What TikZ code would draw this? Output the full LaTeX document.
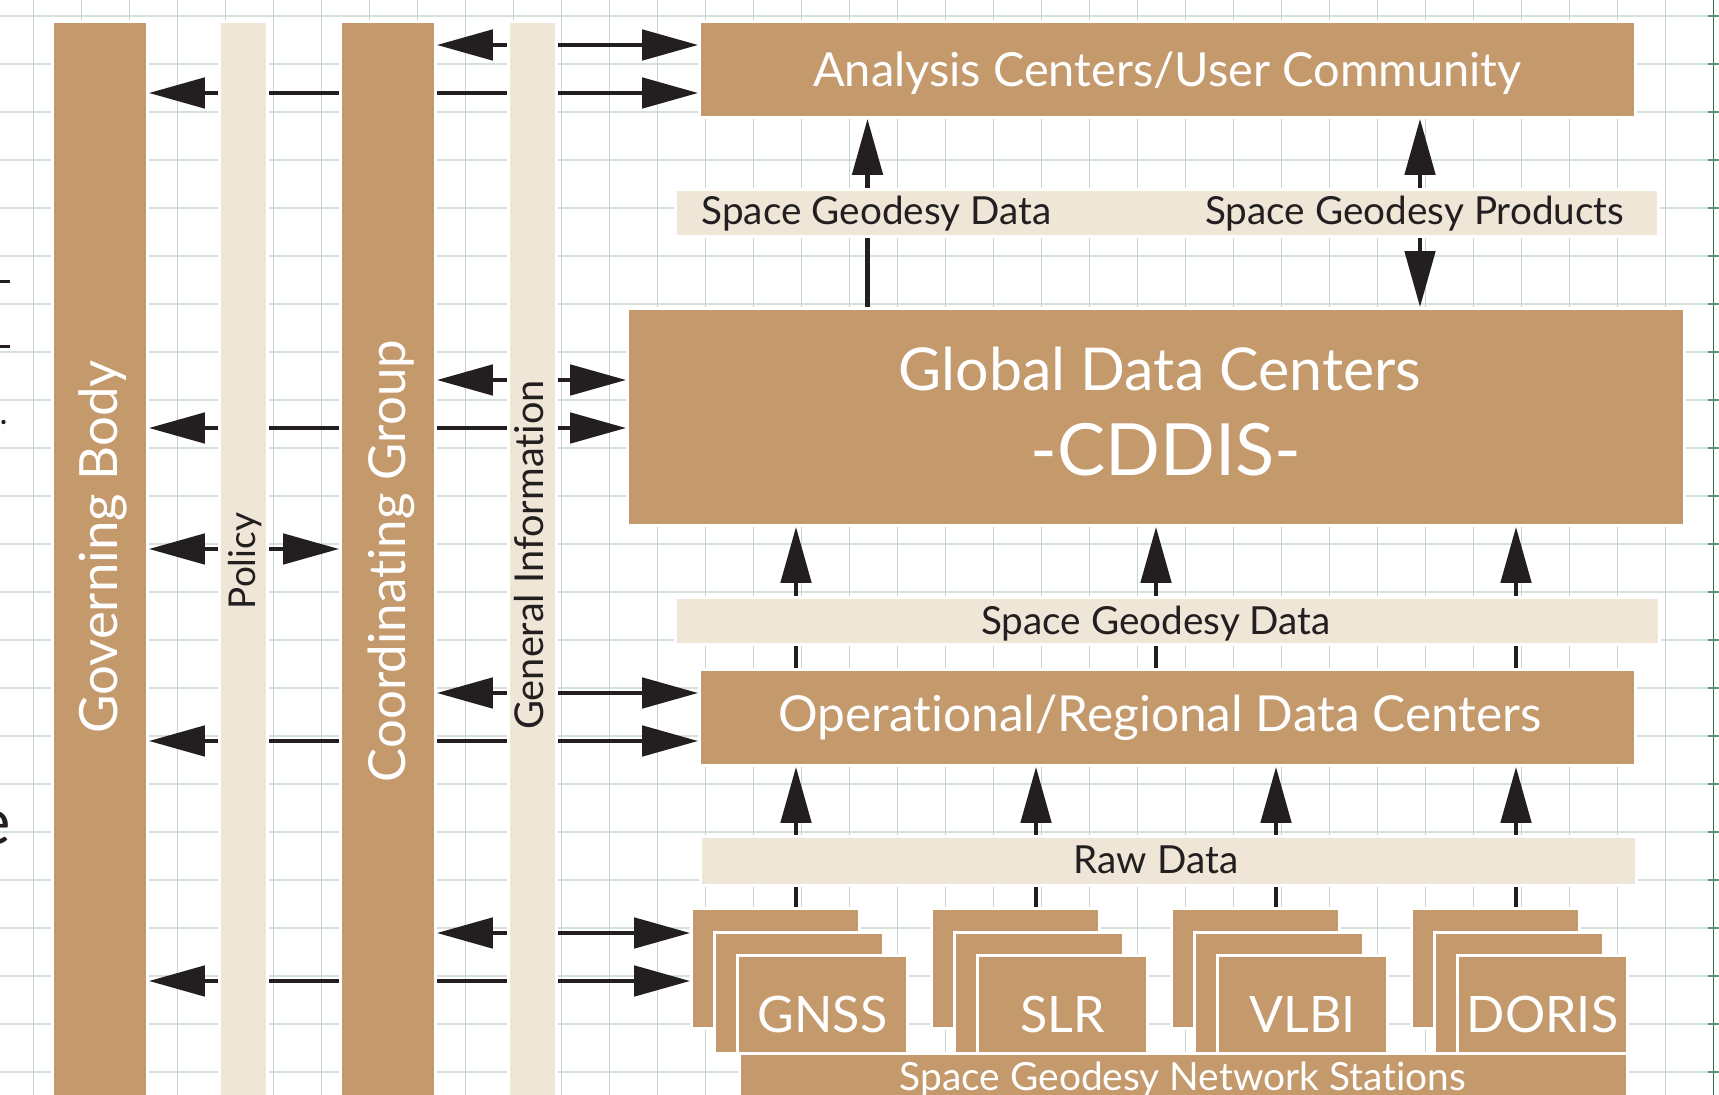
\documentclass[tikz,border=0pt]{standalone}
\usepackage{fontspec}
\setmainfont{Lato}[Ligatures=NoCommon]
\usetikzlibrary{arrows.meta,backgrounds,fit}
\definecolor{clay}{RGB}{196,153,108}
\definecolor{sand}{RGB}{240,230,216}
\definecolor{ink}{RGB}{35,31,32}
\definecolor{gridh}{RGB}{214,225,219}
\definecolor{gridv}{RGB}{198,213,205}
\definecolor{edge}{RGB}{46,107,71}
\pgfdeclarelayer{grid}
\pgfsetlayers{grid,background,main}
% put the middle of the capitals on the node centre
\newcommand{\capmid}[1]{\raisebox{-0.358em}[0pt][0pt]{#1}}
\tikzset{
    base/.style={
        draw=white,
        line width=0.8pt,
        inner sep=0.014cm,
    },
    % brown boxes and bars
    dark/.style={
        base,
        fill=clay,
        text=white,
    },
    % light label bars
    light/.style={
        base,
        fill=sand,
        text=ink,
    },
    % data flow
    flow/.style={
        draw=ink,
        line width=1.34pt,
    },
    >={Triangle[length=0.56cm,width=0.3cm]},
}

\begin{document}
\begin{tikzpicture}[x=0.01cm,y=-0.01cm]
    \useasboundingbox (0,0) rectangle (1719,1095);

%GRID_BEGIN%
    \begin{pgfonlayer}{grid}
        \foreach \y in {16,64,...,1072}
            \draw[gridh, line width=0.57pt] (0,\y) -- (1713,\y);
        \foreach \x in {33.5,81.5,...,1665.5}
            \draw[gridv, line width=0.3pt] (\x,0) -- (\x,1095);
        \draw[edge, line width=0.4pt] (1713.5,0) -- (1713.5,1095);
        \foreach \y in {16,64,...,1072}
            \draw[edge!75!white, line width=0.57pt] (1708,\y) -- (1719,\y);
    \end{pgfonlayer}
    % cut letters at the left edge
    \draw[ink, line width=0.85pt] (0,282) -- (10,282);
    \draw[ink, line width=0.85pt] (0,347) -- (10,347);
    \fill[ink] (3.5,422) circle (0.022cm);
    \node[anchor=east, inner sep=0pt, text=ink, font=\fontsize{18.5pt}{22pt}\selectfont] (frag) at (12,828) {e};
%GRID_END%

%BARS_BEGIN%
    \node[dark, fit={(54,23) (146,1100)}] (gov) {};
    \node[light, fit={(221,23) (266,1100)}] (policy) {};
    \node[dark, fit={(342,23) (434,1100)}] (coord) {};
    \node[light, fit={(510,23) (555,1100)}] (info) {};
    \node[rotate=90, text=white, font=\fontsize{15pt}{18pt}\selectfont] (govtxt) at (99,547) {\capmid{Governing Body}};
    \node[rotate=90, text=ink, font=\fontsize{10.5pt}{13pt}\selectfont] (policytxt) at (242,561) {\capmid{Policy}};
    \node[rotate=90, text=white, font=\fontsize{14.5pt}{18pt}\selectfont] (coordtxt) at (387,561) {\capmid{Coordinating Group}};
    \node[rotate=90, text=ink, font=\fontsize{11.3pt}{13pt}\selectfont] (infotxt) at (529,555) {\capmid{General Information}};
%BARS_END%

%CENTERS_BEGIN%
    \node[dark, fit={(701,23) (1634,116)}, font=\fontsize{13.35pt}{16pt}\selectfont] (acuc) {\capmid{Analysis Centers/User Community}};
    \node[light, fit={(677,191) (1657,235)}] (products) {};
    \node[text=ink, anchor=west, inner sep=0pt, font=\fontsize{11pt}{13pt}\selectfont] (datatxt) at (701,211) {\capmid{Space Geodesy Data}};
    \node[text=ink, anchor=east, inner sep=0pt, font=\fontsize{11pt}{13pt}\selectfont] (prodtxt) at (1625,211) {\capmid{Space Geodesy Products}};
    \node[dark, fit={(629,310) (1683,524)}] (gdc) {};
    \node[text=white, font=\fontsize{16.8pt}{20pt}\selectfont] (gdctxt) at (1160,369) {\capmid{Global Data Centers}};
    \node[text=white, font=\fontsize{20.5pt}{25pt}\selectfont] (cddis) at (1166,450) {\capmid{-CDDIS-}};
    \node[light, fit={(677,599) (1658,643)}] (sgdata) {};
    \node[text=ink, font=\fontsize{11pt}{13pt}\selectfont] (sgdtxt) at (1156,621) {\capmid{Space Geodesy Data}};
    \node[dark, fit={(701,671) (1634,764)}] (odc) {};
    \node[text=white, font=\fontsize{14.1pt}{17pt}\selectfont] (odctxt) at (1160,714) {\capmid{Operational/Regional Data Centers}};
    \node[light, fit={(702,838) (1635,884)}] (raw) {};
    \node[text=ink, font=\fontsize{11pt}{13pt}\selectfont] (rawtxt) at (1156,860) {\capmid{Raw Data}};
%CENTERS_END%

%STATIONS_BEGIN%
    \node[dark, fit={(693,910) (858,1027)}] (gnssA) {};
    \node[dark, fit={(716,934) (882,1052)}] (gnssB) {};
    \node[dark, fit={(739,957) (906,1052)}] (gnssC) {};
    \node[dark, fit={(933,910) (1098,1027)}] (slrA) {};
    \node[dark, fit={(956,934) (1122,1052)}] (slrB) {};
    \node[dark, fit={(979,957) (1146,1052)}] (slrC) {};
    \node[dark, fit={(1173,910) (1338,1027)}] (vlbiA) {};
    \node[dark, fit={(1196,934) (1362,1052)}] (vlbiB) {};
    \node[dark, fit={(1219,957) (1386,1052)}] (vlbiC) {};
    \node[dark, fit={(1413,910) (1578,1027)}] (dorisA) {};
    \node[dark, fit={(1436,934) (1602,1052)}] (dorisB) {};
    \node[dark, fit={(1459,957) (1626,1052)}] (dorisC) {};
    \node[text=white, font=\fontsize{14.3pt}{17pt}\selectfont] at ([yshift=-0.095cm]gnssC.center) {\capmid{GNSS}};
    \node[text=white, font=\fontsize{14.3pt}{17pt}\selectfont] at ([yshift=-0.095cm]slrC.center) {\capmid{SLR}};
    \node[text=white, font=\fontsize{14.3pt}{17pt}\selectfont] at ([yshift=-0.095cm]vlbiC.center) {\capmid{VLBI}};
    \node[text=white, font=\fontsize{14.3pt}{17pt}\selectfont] at ([yshift=-0.095cm]dorisC.center) {\capmid{DORIS}};
    \node[dark, fit={(741,1055) (1626,1100)}] (network) {};
    \node[text=white, font=\fontsize{11.05pt}{14pt}\selectfont] (nettxt) at (1183,1077) {\capmid{Space Geodesy Network Stations}};
%STATIONS_END%

%ARROWS_BEGIN%
    \coordinate (r1) at (0,45);
    \coordinate (r2) at (0,93);
    \coordinate (r3) at (0,380);
    \coordinate (r4) at (0,428);
    \coordinate (r5) at (0,549);
    \coordinate (r6) at (0,693);
    \coordinate (r7) at (0,741);
    \coordinate (r8) at (0,933);
    \coordinate (r9) at (0,981);
    \coordinate (k1) at (867.5,0);
    \coordinate (k2) at (1420,0);
    \coordinate (k3) at (796,0);
    \coordinate (k4) at (1156,0);
    \coordinate (k5) at (1516,0);
    \coordinate (k6) at (1036,0);
    \coordinate (k7) at (1276,0);
    \begin{scope}[on background layer]
        \draw[flow,<->] (coord.east |- r1) -- (acuc.west |- r1);
        \draw[flow,<->] (gov.east |- r2) -- (acuc.west |- r2);
        \draw[flow,<->] (coord.east |- r3) -- (gdc.west |- r3);
        \draw[flow,<->] (gov.east |- r4) -- (gdc.west |- r4);
        \draw[flow,<->] (gov.east |- r5) -- (coord.west |- r5);
        \draw[flow,<->] (coord.east |- r6) -- (odc.west |- r6);
        \draw[flow,<->] (gov.east |- r7) -- (odc.west |- r7);
        \draw[flow,<->] (coord.east |- r8) -- (gnssA.west |- r8);
        \draw[flow,<->] (gov.east |- r9) -- (gnssA.west |- r9);
        % up the chain
        \draw[flow,->] (gdc.north -| k1) -- (acuc.south -| k1);
        \draw[flow,<->] (gdc.north -| k2) -- (acuc.south -| k2);
        \draw[flow,->] (odc.north -| k3) -- (gdc.south -| k3);
        \draw[flow,->] (odc.north -| k4) -- (gdc.south -| k4);
        \draw[flow,->] (odc.north -| k5) -- (gdc.south -| k5);
        \draw[flow,->] (gnssA.north -| k3) -- (odc.south -| k3);
        \draw[flow,->] (slrA.north -| k6) -- (odc.south -| k6);
        \draw[flow,->] (vlbiA.north -| k7) -- (odc.south -| k7);
        \draw[flow,->] (dorisA.north -| k5) -- (odc.south -| k5);
    \end{scope}
%ARROWS_END%
\end{tikzpicture}
\end{document}
